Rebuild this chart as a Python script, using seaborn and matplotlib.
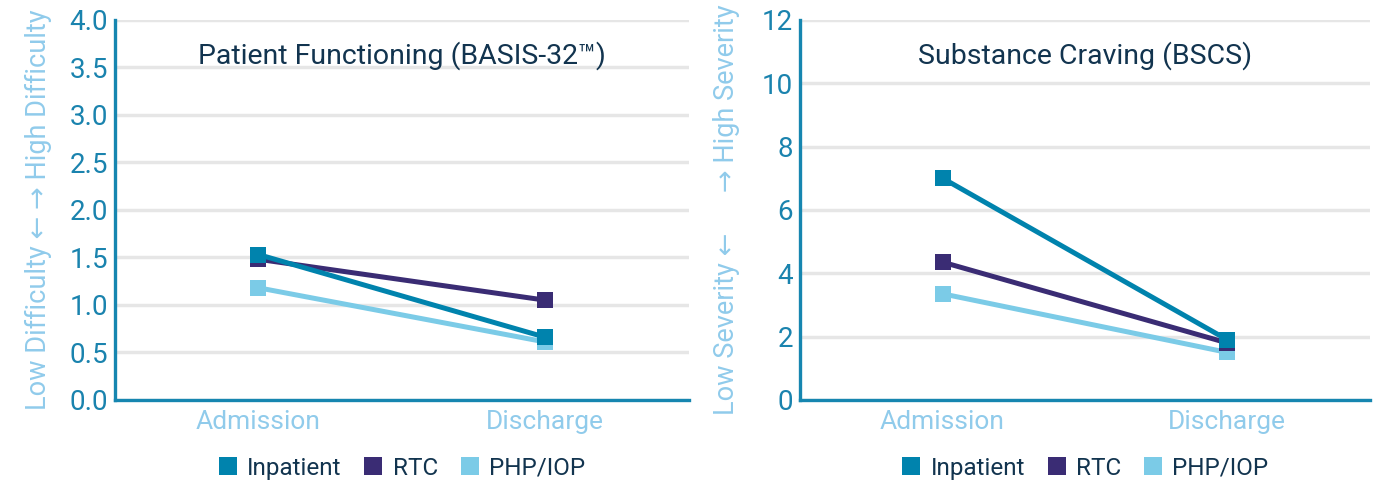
import pandas as pd
import seaborn as sns
import matplotlib.pyplot as plt
from matplotlib.lines import Line2D

# data
stages = ["Admission", "Discharge"]
programs = ["Inpatient", "RTC", "PHP/IOP"]
basis_inpatient = [1.53, 0.66]
basis_rtc = [1.48, 1.05]
basis_php = [1.18, 0.61]
bscs_inpatient = [7.0, 1.9]
bscs_rtc = [4.35, 1.8]
bscs_php = [3.35, 1.5]
basis_ticks = [0.0, 0.5, 1.0, 1.5, 2.0, 2.5, 3.0, 3.5, 4.0]
bscs_ticks = [0, 2, 4, 6, 8, 10, 12]

colors = {"Inpatient": "#0083AD", "RTC": "#3A2C74", "PHP/IOP": "#7BCBE7"}
axis_col = "#1686B0"
tick_col = "#1A83AE"
label_col = "#90CBEB"
title_col = "#12344F"

sns.set_theme(style="white")
plt.rcParams["font.family"] = ["Roboto", "DejaVu Sans"]


def make_df(inp, rtc, php):
    rows = []
    for prog, vals in zip(programs, [inp, rtc, php]):
        for st, v in zip(stages, vals):
            rows.append({"stage": st, "program": prog, "value": v})
    return pd.DataFrame(rows)


panels = [
    (make_df(basis_inpatient, basis_rtc, basis_php), basis_ticks, "%.1f",
     "Patient Functioning (BASIS-32\u2122)",
     "Low Difficulty \u2190 \u2192 High Difficulty", -0.11),
    (make_df(bscs_inpatient, bscs_rtc, bscs_php), bscs_ticks, "%d",
     "Substance Craving (BSCS)",
     "Low Severity \u2190      \u2192 High Severity", -0.105),
]

fig = plt.figure(figsize=(13.82, 4.83), dpi=100)
rects = [[0.0832, 0.172, 0.415, 0.787], [0.579, 0.172, 0.412, 0.787]]

for rect, (df, ticks, fmt, title, ylab, lab_x) in zip(rects, panels):
    ax = fig.add_axes(rect)
    sns.lineplot(data=df, x="stage", y="value", hue="program",
                 hue_order=["PHP/IOP", "RTC", "Inpatient"], palette=colors,
                 marker="s", markersize=12, markeredgewidth=0, linewidth=3.6,
                 legend=False, ax=ax)
    ax.set_xlim(-0.5, 1.5)
    ax.set_ylim(ticks[0], ticks[-1])
    ax.set_yticks(ticks)
    ax.set_yticklabels([fmt % t for t in ticks], fontsize=20, color=tick_col)
    ax.set_xticks([0, 1])
    ax.set_xticklabels(stages, fontsize=19, color=label_col)
    ax.set_xticks([-0.5, 0.5, 1.5], minor=True)
    ax.tick_params(axis="x", which="major", length=0, pad=7)
    ax.tick_params(axis="x", which="minor", direction="in", length=8,
                   width=2.2, color=axis_col)
    ax.tick_params(axis="y", direction="in", length=9, width=2.2,
                   color=axis_col, pad=5)
    ax.grid(axis="y", color="#E6E6E6", linewidth=2.5)
    ax.set_axisbelow(True)
    for s in ["top", "right"]:
        ax.spines[s].set_visible(False)
    for s in ["left", "bottom"]:
        ax.spines[s].set_color(axis_col)
        ax.spines[s].set_linewidth(2.4)
    ax.set_xlabel("")
    ax.set_ylabel(ylab, fontsize=19.5, color=label_col)
    ax.yaxis.set_label_coords(lab_x, 0.5)
    ax.text(0.5, 0.905, title, transform=ax.transAxes, ha="center",
            va="center", fontsize=20.5, color=title_col)

    handles = [Line2D([], [], marker="s", linestyle="none", markersize=13,
                      markeredgewidth=0, color=colors[p]) for p in programs]
    ax.legend(handles, programs, loc="center",
              bbox_to_anchor=(0.5, -0.18), ncol=3, frameon=False,
              fontsize=17.5, handlelength=0.8, handletextpad=0.4,
              columnspacing=0.9, labelcolor=title_col)

fig.savefig("out.png", dpi=100)
